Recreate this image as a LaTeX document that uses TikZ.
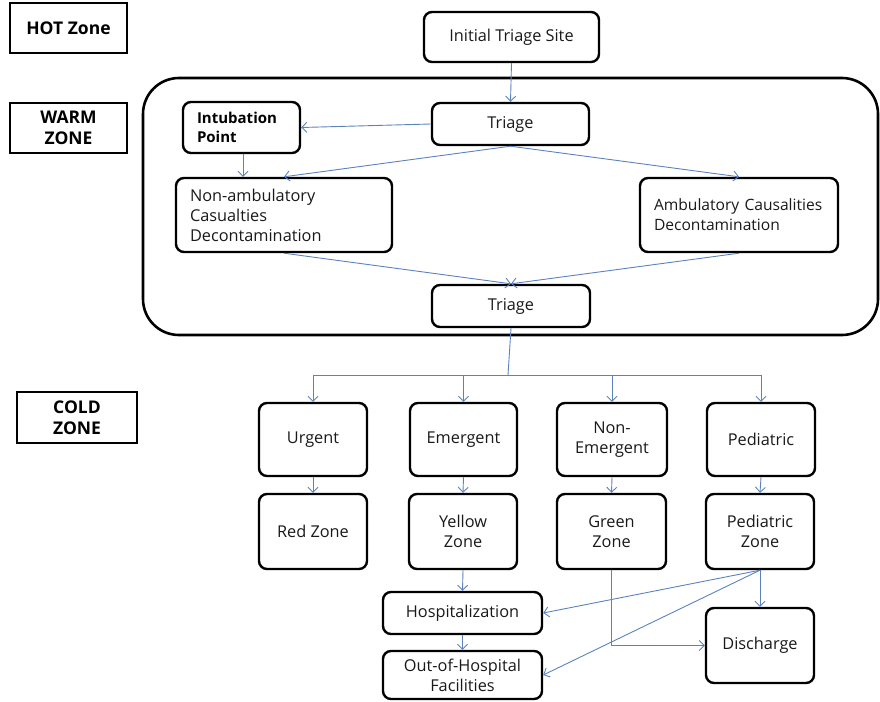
\documentclass[tikz,border=0pt]{standalone}
\usepackage{fontspec}
\setmainfont{Open Sans}
\usetikzlibrary{arrows.meta}
\definecolor{conn}{RGB}{92,130,190}
\tikzset{
  bx/.style={draw=black, line width=2.4pt, rounded corners=8pt, inner sep=0pt,
    font=\fontsize{16.3}{20}\selectfont, align=center, text=black!90},
  zonebox/.style={draw=black, line width=2.6pt, inner sep=0pt,
    font=\fontsize{17.5}{21}\selectfont\bfseries, align=center},
  arr/.style={draw=conn, line width=0.9pt, -{Straight Barb[length=5pt,width=10pt]}},
  ln/.style={draw=conn, line width=0.9pt},
}
\begin{document}
\begin{tikzpicture}[x=1pt,y=-1pt]
\useasboundingbox (0,0) rectangle (880,701);
% zone labels
\node[zonebox, minimum width=117pt, minimum height=50pt] (hot) at (68.5,28) {HOT Zone};
\node[zonebox, minimum width=117pt, minimum height=50pt] (warmlab) at (68.5,128) {WARM\\ZONE};
\node[zonebox, minimum width=120pt, minimum height=51pt] (coldlab) at (77,417.5) {COLD\\ZONE};
% warm zone container
\node[draw=black, line width=2.6pt, rounded corners=36pt, minimum width=735pt, minimum height=257pt, inner sep=0pt] (warm) at (510.5,206.5) {};
% top part
\node[bx, minimum width=175pt, minimum height=50pt] (init) at (511.5,37) {Initial Triage Site};
\node[bx, minimum width=157pt, minimum height=42pt] (t1) at (510.5,124) {Triage};
\node[bx, minimum width=117pt, minimum height=51pt, align=left, text width=89pt, inner xsep=14pt,
  font=\fontsize{15}{19}\selectfont\bfseries, text=black] (intub) at (241.5,127.5) {Intubation\\Point};
\node[bx, minimum height=74pt, align=left, text width=188pt, inner xsep=14pt] (nonamb) at (284,215) {Non-ambulatory\\Casualties\\Decontamination};
\node[bx, minimum height=74pt, align=left, text width=170pt, inner xsep=14pt,
  font=\fontsize{15.6}{20}\selectfont] (amb) at (739,215) {\mbox{Ambulatory Causalities}\\Decontamination};
\node[bx, minimum width=158pt, minimum height=42pt] (t2) at (511,306) {Triage};
% cold zone
\node[bx, minimum width=108pt, minimum height=73pt] (urg) at (313,439.5) {Urgent};
\node[bx, minimum width=108pt, minimum height=75pt] (red) at (313,531.5) {Red Zone};
\node[bx, minimum width=107pt, minimum height=73pt] (emg) at (463.5,439.5) {Emergent};
\node[bx, minimum width=108pt, minimum height=75pt] (yel) at (463,531.5) {Yellow\\Zone};
\node[bx, minimum width=110pt, minimum height=73pt] (nonem) at (612,439.5) {Non-\\Emergent};
\node[bx, minimum width=109pt, minimum height=75pt] (grn) at (611.5,531.5) {Green\\Zone};
\node[bx, minimum width=108pt, minimum height=73pt] (ped) at (761,439.5) {Pediatric};
\node[bx, minimum width=108pt, minimum height=75pt] (pz) at (760,531.5) {Pediatric\\Zone};
\node[bx, minimum width=159pt, minimum height=42pt] (hosp) at (462.5,613) {Hospitalization};
\node[bx, minimum width=159pt, minimum height=48pt] (out) at (462.5,675) {Out-of-Hospital\\Facilities};
\node[bx, minimum width=108pt, minimum height=75pt] (dis) at (760,645.5) {Discharge};
% connectors
\draw[arr] (init.south) -- (t1.north);
\draw[arr] (t1.west) -- (intub.east);
\draw[arr] (intub.south -| 243,0) -- (nonamb.north -| 243,0);
\draw[arr] (t1.south) -- (nonamb.north);
\draw[arr] (t1.south) -- (amb.north);
\draw[arr] (nonamb.south) -- (t2.north);
\draw[arr] (amb.south) -- (t2.north);
\coordinate (hub) at (508,375);
\draw[ln] (t2.south) -- (hub);
\draw[ln] (urg.north |- hub) -- (ped.north |- hub);
\draw[arr] (urg.north |- hub) -- (urg.north);
\draw[arr] (emg.north |- hub) -- (emg.north);
\draw[arr] (nonem.north |- hub) -- (nonem.north);
\draw[arr] (ped.north |- hub) -- (ped.north);
\draw[arr] (urg.south) -- (red.north);
\draw[arr] (emg.south) -- (yel.north);
\draw[arr] (nonem.south) -- (grn.north);
\draw[arr] (ped.south) -- (pz.north);
\draw[arr] (yel.south) -- (hosp.north);
\draw[arr] (hosp.south) -- (out.north);
\draw[arr] (pz.south) -- (hosp.east);
\draw[arr] (pz.south) -- (out.east);
\draw[arr] (pz.south) -- (dis.north);
\draw[arr] (grn.south) |- (dis.west);
\end{tikzpicture}
\end{document}
